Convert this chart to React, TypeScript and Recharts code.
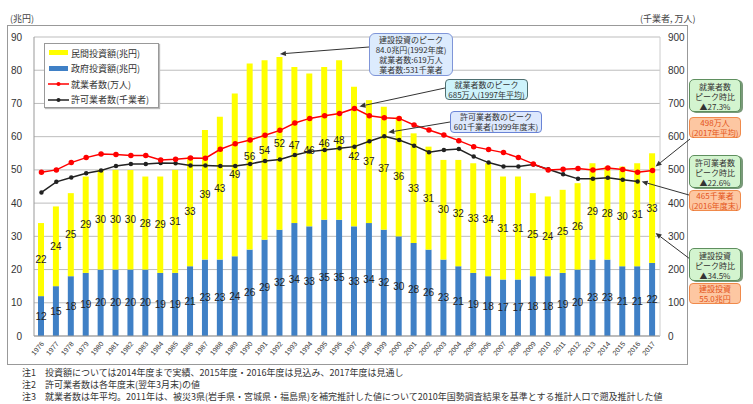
import React from 'react';
import { ComposedChart, Bar, Line, XAxis, YAxis, CartesianGrid, LabelList, ReferenceDot } from 'recharts';

const years = ['1976','1977','1978','1979','1980','1981','1982','1983','1984','1985','1986','1987','1988','1989','1990','1991','1992','1993','1994','1995','1996','1997','1998','1999','2000','2001','2002','2003','2004','2005','2006','2007','2008','2009','2010','2011','2012','2013','2014','2015','2016','2017'];
const govInvest = [12,15,18,19,20,20,20,20,19,19,21,23,23,24,26,29,32,34,33,35,35,33,34,32,30,28,26,23,21,19,18,17,17,18,18,19,20,23,23,21,21,22];
const privInvest = [22,24,25,29,30,30,30,28,29,31,33,39,43,49,56,54,52,47,46,46,48,42,37,37,36,33,31,30,32,33,34,31,31,25,24,25,26,29,28,30,31,33];
const employed = [493,500,522,537,548,546,543,543,530,532,536,535,562,579,590,604,619,641,655,663,670,685,663,657,655,635,620,605,588,570,561,552,537,518,500,502,504,500,506,501,493,498];
const licensed: (number | null)[] = [432,464,477,490,498,512,518,518,521,520,513,513,512,512,518,527,531,545,555,560,565,570,586,601,590,573,553,560,563,540,522,510,510,516,502,487,473,473,476,470,465,null];
const leftTicks = [0,10,20,30,40,50,60,70,80,90];
const rightTicks = [0,100,200,300,400,500,600,700,800,900];

const data = years.map((y, i) => ({
  year: y,
  gov: govInvest[i],
  priv: privInvest[i],
  emp: employed[i],
  lic: licensed[i],
}));

const JP = '"Noto Sans CJK JP", "Noto Sans", sans-serif';
const NUM = '"Liberation Sans", Arial, sans-serif';

function makeArrow(fx: number, fy: number, dx: number, dy: number) {
  return (p: any) => {
    const tx = p.cx + dx;
    const ty = p.cy + dy;
    const ang = Math.atan2(ty - fy, tx - fx);
    const L = 6, W = 2.6;
    const bx = tx - L * Math.cos(ang);
    const by = ty - L * Math.sin(ang);
    const px = -Math.sin(ang) * W;
    const py = Math.cos(ang) * W;
    return (
      <g>
        <line x1={fx} y1={fy} x2={bx} y2={by} stroke="#333" strokeWidth={1} />
        <polygon points={`${tx},${ty} ${bx + px},${by + py} ${bx - px},${by - py}`} fill="#333" />
      </g>
    );
  };
}

const YearTick = (props: any) => {
  const { x, y, payload } = props;
  const ax = x + 3;
  const ay = y;
  return (
    <text x={ax} y={ay} transform={`rotate(-50 ${ax} ${ay})`} textAnchor="end" fontSize={7} fill="#333" fontFamily={NUM}>
      {payload.value}
    </text>
  );
};

const abs = (l: number, t: number, extra: React.CSSProperties = {}): React.CSSProperties => ({
  position: 'absolute', left: l, top: t, ...extra,
});

const boxText = (lines: string[], style: React.CSSProperties) => (
  <div style={style}>
    {lines.map((s, i) => (<div key={i}>{s}</div>))}
  </div>
);

export default function App() {
  const legendItems = [
    { label: '民間投資額(兆円)', kind: 'rect', color: '#FFFF00' },
    { label: '政府投資額(兆円)', kind: 'rect', color: '#3F80C6' },
    { label: '就業者数(万人)', kind: 'line', color: '#FF0000' },
    { label: '許可業者数(千業者)', kind: 'line', color: '#222' },
  ];
  const greenBox: React.CSSProperties = {
    position: 'absolute', left: 689, width: 52, background: '#d3f4cf', border: '1px solid #5f8f5f',
    borderRadius: 5, fontFamily: JP, fontSize: 8, lineHeight: '10px', textAlign: 'center', color: '#333',
    boxShadow: '2px 1px 0 #7a9a7a', paddingTop: 2, boxSizing: 'border-box',
  };
  const orangeBox: React.CSSProperties = {
    position: 'absolute', left: 689, width: 52, background: '#fdc7a2', border: '1px solid #f08a4b',
    borderRadius: 4, fontFamily: JP, fontSize: 8, lineHeight: '10px', textAlign: 'center', color: '#e4541a',
    paddingTop: 0, boxSizing: 'border-box',
  };
  const noteStyle: React.CSSProperties = { position: 'absolute', left: 22, fontFamily: JP, fontSize: 9, color: '#333', lineHeight: '10px', whiteSpace: 'nowrap' };
  return (
    <div style={{ position: 'absolute', left: 0, top: 0, width: 753, height: 404, background: '#fff' }}>
      <div style={abs(7, 25, { width: 681, height: 340, border: '1px solid #999', boxSizing: 'border-box' })} />
      <div style={abs(0, 0)}>
        <ComposedChart width={753} height={404} data={data} margin={{ top: 37, right: 65, bottom: 38, left: 0 }} barCategoryGap={0}>
          <CartesianGrid vertical={false} stroke="#bdbdbd" yAxisId="left" />
          <XAxis dataKey="year" interval={0} tick={<YearTick />} tickLine={false} axisLine={{ stroke: '#999' }} height={30} />
          <YAxis yAxisId="left" domain={[0, 90]} ticks={leftTicks} width={34} tickLine={false} tickMargin={6}
            axisLine={{ stroke: '#999' }} tick={{ fontSize: 10, fill: '#333', fontFamily: NUM }} />
          <YAxis yAxisId="right" orientation="right" domain={[0, 900]} ticks={rightTicks} width={28} tickLine={false}
            axisLine={{ stroke: '#ccc' }} tick={{ fontSize: 10, fill: '#333', fontFamily: NUM }} />
          <Bar yAxisId="left" dataKey="gov" stackId="a" fill="#3F80C6" barSize={6} isAnimationActive={false}>
            <LabelList dataKey="gov" position="center" fontSize={10} fill="#222" fontFamily={NUM} />
          </Bar>
          <Bar yAxisId="left" dataKey="priv" stackId="a" fill="#FFFF00" barSize={6} isAnimationActive={false}>
            <LabelList dataKey="priv" position="center" fontSize={10} fill="#222" fontFamily={NUM} />
          </Bar>
          <Line yAxisId="right" dataKey="lic" stroke="#222" strokeWidth={1.5} dot={{ r: 1.5, fill: '#222', stroke: '#222' }} isAnimationActive={false} />
          <Line yAxisId="right" dataKey="emp" stroke="#FF0000" strokeWidth={1.5} dot={{ r: 2, fill: '#FF0000', stroke: '#FF0000' }} isAnimationActive={false} />
          <ReferenceDot yAxisId="left" x="1992" y={84} ifOverflow="visible" shape={makeArrow(369, 47, 0, -3)} />
          <ReferenceDot yAxisId="right" x="1997" y={685} ifOverflow="visible" shape={makeArrow(445, 88, 5, -2)} />
          <ReferenceDot yAxisId="right" x="1999" y={601} ifOverflow="visible" shape={makeArrow(450, 122, 4, -4)} />
          <ReferenceDot yAxisId="right" x="2017" y={498} ifOverflow="visible" shape={makeArrow(690, 139, 3, -4)} />
          <ReferenceDot yAxisId="right" x="2016" y={465} ifOverflow="visible" shape={makeArrow(689, 195, 4, 0)} />
          <ReferenceDot yAxisId="left" x="2017" y={31} ifOverflow="visible" shape={makeArrow(690, 259, 3, 0)} />
        </ComposedChart>
      </div>

      <div style={abs(10, 12, { fontFamily: JP, fontSize: 9, color: '#444' })}>(兆円)</div>
      <div style={abs(640, 12, { fontFamily: JP, fontSize: 9, color: '#444' })}>(千業者, 万人)</div>

      <div style={abs(44, 43, { width: 115, height: 65, background: '#fff', border: '1px solid #999', boxSizing: 'border-box', boxShadow: '1px 1px 1px #bbb' })}>
        {legendItems.map((it, i) => (
          <div key={i} style={{ position: 'absolute', left: 3, top: 2 + i * 15.5, height: 14, display: 'flex', alignItems: 'center' }}>
            <svg width={22} height={10}>
              {it.kind === 'rect'
                ? <rect x={1} y={2} width={19} height={5} fill={it.color} />
                : <g><line x1={0} y1={5} x2={21} y2={5} stroke={it.color} strokeWidth={1.5} /><circle cx={10.5} cy={5} r={2} fill={it.color} /></g>}
            </svg>
            <span style={{ fontFamily: JP, fontSize: 9, color: '#333', marginLeft: 1 }}>{it.label}</span>
          </div>
        ))}
      </div>

      {boxText(['建設投資のピーク', '84.0兆円(1992年度)', '就業者数:619万人', '業者数:531千業者'],
        abs(369, 33, { width: 84, height: 43, background: '#dcebfd', border: '1px solid #7f95d8', borderRadius: 6, boxSizing: 'border-box', fontFamily: JP, fontSize: 8, lineHeight: '10px', textAlign: 'center', color: '#333', paddingTop: 1 }))}
      {boxText(['就業者数のピーク', '685万人(1997年平均)'],
        abs(445, 79, { width: 83, height: 21, background: '#cdf3fb', border: '1px solid #4f6f70', borderRadius: 4, boxSizing: 'border-box', fontFamily: JP, fontSize: 8, lineHeight: '9.5px', textAlign: 'center', color: '#333' }))}
      {boxText(['許可業者数のピーク', '601千業者(1999年度末)'],
        abs(450, 111, { width: 92, height: 22, background: '#dde8fd', border: '1px solid #6a84d6', borderRadius: 4, boxSizing: 'border-box', fontFamily: JP, fontSize: 8, lineHeight: '9.5px', textAlign: 'center', color: '#333' }))}

      {boxText(['就業者数', 'ピーク時比', '▲27.3%'], { ...greenBox, top: 79, height: 33 })}
      {boxText(['498万人', '(2017年平均)'], { ...orangeBox, top: 117, height: 21 })}
      {boxText(['許可業者数', 'ピーク時比', '▲22.6%'], { ...greenBox, top: 155, height: 33 })}
      {boxText(['465千業者', '(2016年度末)'], { ...orangeBox, top: 190, height: 21 })}
      {boxText(['建設投資', 'ピーク時比', '▲34.5%'], { ...greenBox, top: 248, height: 33 })}
      {boxText(['建設投資', '55.0兆円'], { ...orangeBox, top: 283, height: 21 })}

      <div style={{ ...noteStyle, top: 368 }}>注1　投資額については2014年度まで実績、2015年度・2016年度は見込み、2017年度は見通し</div>
      <div style={{ ...noteStyle, top: 380 }}>注2　許可業者数は各年度末(翌年3月末)の値</div>
      <div style={{ ...noteStyle, top: 392 }}>注3　就業者数は年平均。2011年は、被災3県(岩手県・宮城県・福島県)を補完推計した値について2010年国勢調査結果を基準とする推計人口で遡及推計した値</div>
    </div>
  );
}
